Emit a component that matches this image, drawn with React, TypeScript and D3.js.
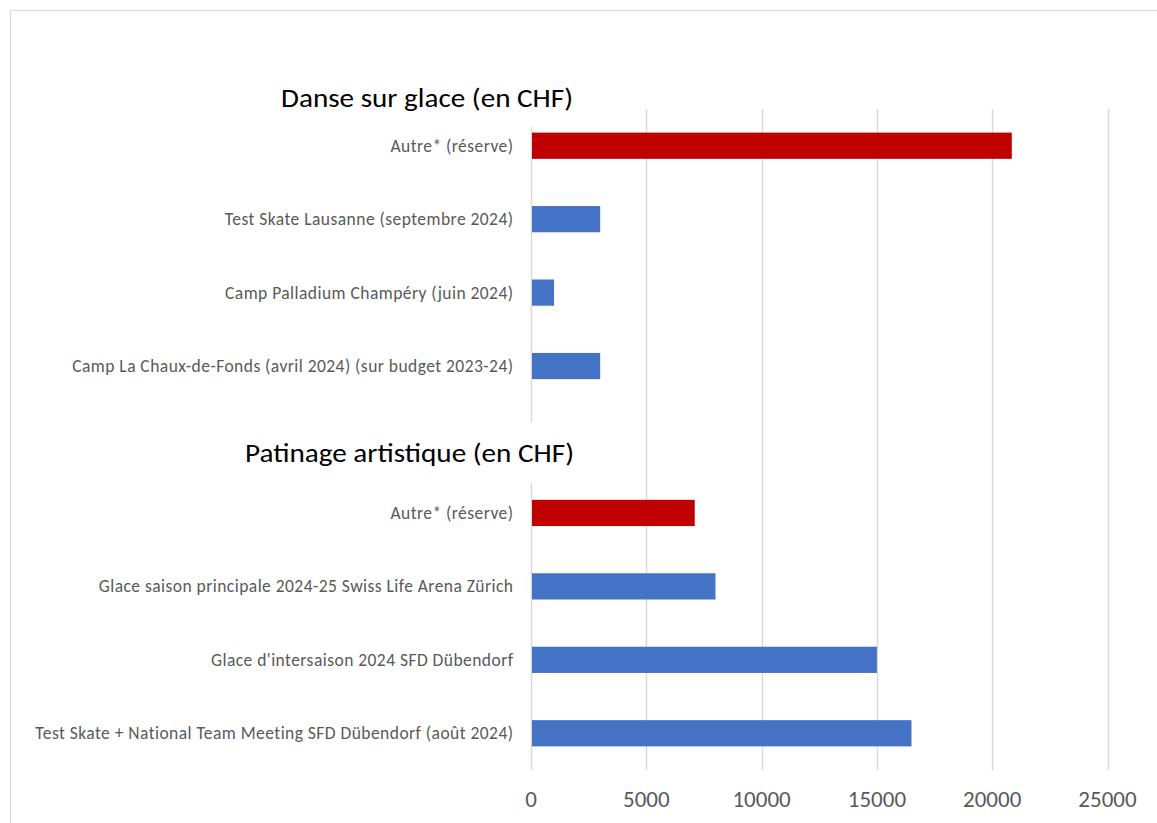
import React from "react";
import * as d3 from "d3";

const danseLabels = [
  "Autre* (réserve)",
  "Test Skate Lausanne (septembre 2024)",
  "Camp Palladium Champéry (juin 2024)",
  "Camp La Chaux-de-Fonds (avril 2024) (sur budget 2023-24)",
];
const danseValues = [20850, 3000, 1000, 3000];
const danseReserve = [true, false, false, false];

const patinageLabels = [
  "Autre* (réserve)",
  "Glace saison principale 2024-25 Swiss Life Arena Zürich",
  "Glace d'intersaison 2024 SFD Dübendorf",
  "Test Skate + National Team Meeting SFD Dübendorf (août 2024)",
];
const patinageValues = [7100, 8000, 15000, 16500];
const patinageReserve = [true, false, false, false];

const titles = ["Danse sur glace (en CHF)", "Patinage artistique (en CHF)"];
const xTicks = [0, 5000, 10000, 15000, 20000, 25000];

type Row = { key: string; label: string; value: number; reserve: boolean };

const rows: Row[] = [
  ...danseLabels.map((l, i) => ({ key: "d" + i, label: l, value: danseValues[i], reserve: danseReserve[i] })),
  { key: "gap", label: "", value: 0, reserve: false },
  ...patinageLabels.map((l, i) => ({ key: "p" + i, label: l, value: patinageValues[i], reserve: patinageReserve[i] })),
];

const W = 1157;
const H = 823;
const plotLeft = 531;
const plotRight = 1107.5;
const plotTop = 109;
const plotBottom = 770;

export default function App() {
  const x = d3.scaleLinear().domain([0, 25000]).range([plotLeft, plotRight]);
  const y = d3
    .scaleBand<string>()
    .domain(rows.map((r) => r.key))
    .range([plotTop, plotBottom])
    .paddingInner(0.643)
    .paddingOuter(0.3215);

  const font = "Carlito, Calibri, Lato, 'Open Sans', sans-serif";
  const grid = "#D9D9D9";
  const textGray = "#595959";

  return (
    <svg
      width={W}
      height={H}
      style={{ position: "absolute", left: 0, top: 0, display: "block", background: "#fff" }}
    >
      <rect x={0} y={0} width={W} height={H} fill="#fff" />
      {/* chart area border */}
      <rect x={10.5} y={10.5} width={1300} height={1000} fill="#fff" stroke={grid} strokeWidth={1} />
      {/* gridlines */}
      {xTicks.map((t) => (
        <line
          key={"g" + t}
          x1={Math.round(x(t)) + 0.5}
          x2={Math.round(x(t)) + 0.5}
          y1={plotTop}
          y2={plotBottom}
          stroke={grid}
          strokeWidth={1.5}
        />
      ))}
      {/* bars */}
      {rows
        .filter((r) => r.key !== "gap")
        .map((r) => (
          <rect
            key={"b" + r.key}
            x={x(0) + 1}
            y={y(r.key)!}
            width={x(r.value) - x(0) - 1}
            height={y.bandwidth()}
            fill={r.reserve ? "#C00000" : "#4472C4"}
          />
        ))}
      {/* category labels */}
      {rows
        .filter((r) => r.key !== "gap")
        .map((r) => (
          <text
            key={"l" + r.key}
            x={513.5}
            y={y(r.key)! + y.bandwidth() / 2}
            textAnchor="end"
            dominantBaseline="central"
            fontFamily={font}
            fontSize={17.5}
            letterSpacing={0.45}
            fill={textGray}
          >
            {r.label}
          </text>
        ))}
      {/* x tick labels */}
      {xTicks.map((t) => (
        <text
          key={"t" + t}
          x={x(t)}
          y={799}
          textAnchor="middle"
          dominantBaseline="central"
          fontFamily={font}
          fontSize={23}
          fill={textGray}
        >
          {t}
        </text>
      ))}
      {/* title boxes (overlay, white background) */}
      <rect x={260} y={70} width={335} height={57} fill="#fff" />
      <text x={573} y={107} textAnchor="end" fontFamily={font} fontSize={26.5} fill="#000" textLength={292} lengthAdjust="spacingAndGlyphs">
        {titles[0]}
      </text>
      <rect x={230} y={422} width={365} height={61} fill="#fff" />
      <text x={574} y={462} textAnchor="end" fontFamily={font} fontSize={26.5} fill="#000" textLength={329} lengthAdjust="spacingAndGlyphs">
        {titles[1]}
      </text>
    </svg>
  );
}
